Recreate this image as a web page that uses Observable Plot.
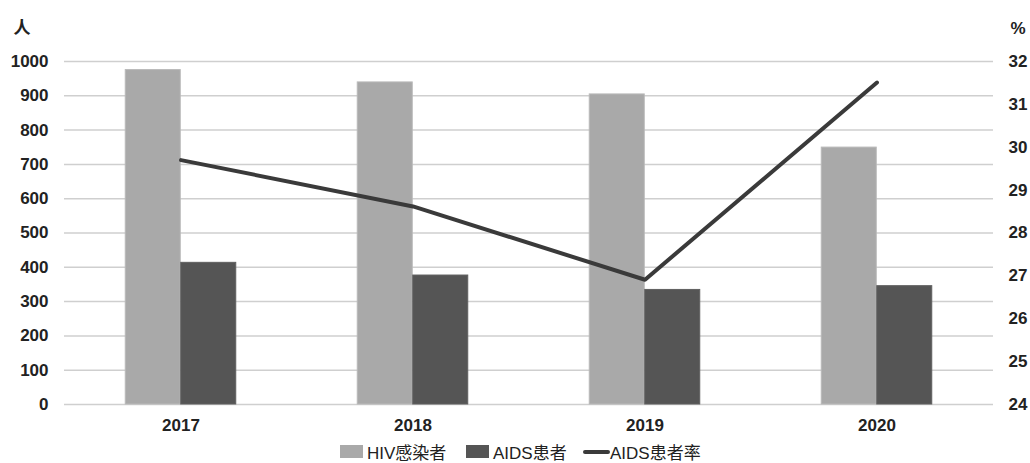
<!DOCTYPE html>
<html><head><meta charset="utf-8">
<script src="https://cdn.jsdelivr.net/npm/d3@7"></script>
<script src="https://cdn.jsdelivr.net/npm/@observablehq/plot@0.6"></script>
<style>
body{margin:0;background:#fff;font-family:"Liberation Sans","Noto Sans CJK SC",sans-serif;}
#legend{position:relative;height:23px;width:1030px;font-size:17px;color:#222;}
.item{position:absolute;top:0;height:23px;display:flex;align-items:center;white-space:nowrap;}
.sw{width:23px;height:13px;margin-right:4px;}
.ln{width:27px;height:4px;background:#3a3a3a;border-radius:2px;margin-right:0px;}
</style></head>
<body>
<div id="chart"></div>
<div id="legend"></div>
<script>
const years = ["2017","2018","2019","2020"];
const hiv = [975, 939, 904, 749];
const aids = [413, 376, 334, 345];
const rate = [29.7, 28.62, 26.91, 31.51];
const leftTicks = [0,100,200,300,400,500,600,700,800,900,1000];
const rightTicks = [24,25,26,27,28,29,30,31,32];
const seriesNames = ["HIV感染者","AIDS患者","AIDS患者率"];
const colors = ["#a9a9a9","#555555","#3a3a3a"];

const rMin = 24, rMax = 32, lMax = 1000;
const toLeft = v => (v - rMin) * lMax / (rMax - rMin);

const hivData = years.map((y,i)=>({year:y, value:hiv[i]}));
const aidsData = years.map((y,i)=>({year:y, value:aids[i]}));
const rateData = years.map((y,i)=>({year:y, value:toLeft(rate[i])}));

const pad = 0.761;
const barW = 929 * (1 - pad) / 4;

const chart = Plot.plot({
  width: 1030, height: 440,
  marginTop: 61, marginBottom: 36, marginLeft: 64, marginRight: 37,
  style: {fontFamily: '"Liberation Sans","Noto Sans CJK SC",sans-serif', fontSize: "17px", fontWeight: "bold", color: "#222"},
  x: {type: "band", domain: years, paddingInner: pad, paddingOuter: pad/2, align: 0.5},
  y: {domain: [0, lMax]},
  marks: [
    Plot.ruleY(leftTicks, {stroke: "#cfcfcf", strokeWidth: 1.5}),
    Plot.barY(hivData, {x: "year", y: "value", fill: colors[0], stroke: "#b9b9b9", strokeWidth: 1, dx: -barW/2}),
    Plot.barY(aidsData, {x: "year", y: "value", fill: colors[1], stroke: "#606060", strokeWidth: 1, dx: barW/2}),
    Plot.line(rateData, {x: "year", y: "value", stroke: colors[2], strokeWidth: 4, strokeLinecap: "round", strokeLinejoin: "round"}),
    Plot.axisY(leftTicks, {anchor: "left", tickSize: 0, tickPadding: 16, label: null, tickFormat: d => String(d)}),
    Plot.axisY(rightTicks.map(toLeft), {anchor: "right", tickSize: 0, tickPadding: 15, label: null,
      tickFormat: (d) => String(Math.round(rMin + d * (rMax - rMin) / lMax))}),
    Plot.axisX({anchor: "bottom", tickSize: 0, tickPadding: 14, label: null}),
    Plot.text(["人"], {frameAnchor: "top-left", dx: -51, dy: -40, text: d => d, fontWeight: "bold", fontSize: 17, textAnchor: "start"}),
    Plot.text(["%"], {frameAnchor: "top-right", dx: 17, dy: -40, text: d => d, fontWeight: "bold", fontSize: 17, textAnchor: "start"})
  ]
});
document.getElementById("chart").appendChild(chart);

const legend = document.getElementById("legend");
const lefts = [340, 466, 583];
seriesNames.forEach((name, i) => {
  const it = document.createElement("div");
  it.className = "item";
  it.style.left = lefts[i] + "px";
  const sw = document.createElement("div");
  if (i < 2) { sw.className = "sw"; sw.style.background = colors[i]; }
  else { sw.className = "ln"; }
  it.appendChild(sw);
  const t = document.createElement("span");
  t.textContent = name;
  it.appendChild(t);
  legend.appendChild(it);
});
</script>
</body></html>
